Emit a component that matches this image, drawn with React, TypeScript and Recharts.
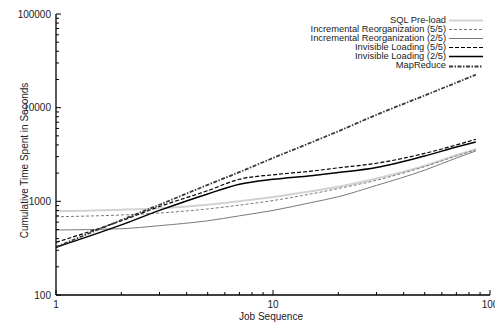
import React from 'react';
import { LineChart, Line, XAxis, YAxis, Legend, Label } from 'recharts';

// job sequence numbers (x, log scale)
const JOBS = [1, 2, 3, 5, 7, 10, 15, 20, 30, 50, 70, 86];

// cumulative seconds per series
const SQL_PRELOAD = [787, 815, 845, 920, 1000, 1110, 1280, 1430, 1750, 2400, 3100, 3600];
const INCR_REORG_55 = [685, 715, 750, 830, 910, 1020, 1200, 1370, 1680, 2350, 3050, 3550];
const INCR_REORG_25 = [494, 510, 550, 620, 700, 800, 970, 1120, 1480, 2150, 2900, 3450];
const INVIS_LOAD_55 = [365, 620, 880, 1300, 1720, 1920, 2100, 2280, 2550, 3250, 4000, 4600];
const INVIS_LOAD_25 = [323, 560, 800, 1200, 1520, 1720, 1880, 2030, 2300, 3050, 3800, 4300];
const MAPREDUCE = [325, 630, 920, 1500, 2050, 2900, 4250, 5600, 8400, 13500, 18500, 22500];

const X_TICKS = [1, 2, 3, 4, 5, 6, 7, 8, 9, 10, 20, 30, 40, 50, 60, 70, 80, 90, 100];
const Y_TICKS = [
  100, 200, 300, 400, 500, 600, 700, 800, 900,
  1000, 2000, 3000, 4000, 5000, 6000, 7000, 8000, 9000,
  10000, 20000, 30000, 40000, 50000, 60000, 70000, 80000, 90000,
  100000,
];

const SERIES = [
  { key: 'sql', name: 'SQL Pre-load', color: '#d2d2d2', width: 2, dash: undefined },
  { key: 'incr55', name: 'Incremental Reorganization (5/5)', color: '#7a7a7a', width: 1, dash: '3 2' },
  { key: 'incr25', name: 'Incremental Reorganization (2/5)', color: '#7a7a7a', width: 1, dash: undefined },
  { key: 'inv55', name: 'Invisible Loading (5/5)', color: '#000000', width: 1.2, dash: '4 2' },
  { key: 'inv25', name: 'Invisible Loading (2/5)', color: '#000000', width: 1.5, dash: undefined },
  { key: 'mr', name: 'MapReduce', color: '#3a3a3a', width: 1.8, dash: '4 1.5 1.5 1.5' },
];

const rows = JOBS.map((job, i) => ({
  job,
  sql: SQL_PRELOAD[i],
  incr55: INCR_REORG_55[i],
  incr25: INCR_REORG_25[i],
  inv55: INVIS_LOAD_55[i],
  inv25: INVIS_LOAD_25[i],
  mr: MAPREDUCE[i],
}));

const FONT = '"Liberation Sans", Arial, sans-serif';

const isMajor = (v: number) => Math.abs(Math.log10(v) - Math.round(Math.log10(v))) < 1e-6;

const BottomTick = (props: any) => {
  const { x, y, payload } = props;
  const major = isMajor(payload.value);
  return (
    <g>
      <line x1={x} y1={y} x2={x} y2={y - (major ? 5 : 3)} stroke="#000" strokeWidth={1} />
      {major && (
        <text x={x} y={y + 13} textAnchor="middle" fontSize={10} fontFamily={FONT} fill="#222">
          {payload.value}
        </text>
      )}
    </g>
  );
};

const TopTick = (props: any) => {
  const { x, y, payload } = props;
  const major = isMajor(payload.value);
  return <line x1={x} y1={y} x2={x} y2={y + (major ? 5 : 3)} stroke="#000" strokeWidth={1} />;
};

const LeftTick = (props: any) => {
  const { x, y, payload } = props;
  const major = isMajor(payload.value);
  return (
    <g>
      <line x1={x} y1={y} x2={x + (major ? 5 : 3)} y2={y} stroke="#000" strokeWidth={1} />
      {major && (
        <text x={x - 5} y={y} dy="0.36em" textAnchor="end" fontSize={10} fontFamily={FONT} fill="#222">
          {payload.value}
        </text>
      )}
    </g>
  );
};

const RightTick = (props: any) => {
  const { x, y, payload } = props;
  const major = isMajor(payload.value);
  return <line x1={x} y1={y} x2={x - (major ? 5 : 3)} y2={y} stroke="#000" strokeWidth={1} />;
};

const LegendBox = () => (
  <div style={{ fontFamily: FONT, fontSize: 9.3, color: '#222' }}>
    {SERIES.map((s) => (
      <div key={s.key} style={{ display: 'flex', alignItems: 'center', justifyContent: 'flex-end', height: 9.1, lineHeight: '9.1px' }}>
        <span style={{ whiteSpace: 'nowrap' }}>{s.name}</span>
        <svg width={34} height={9} style={{ marginLeft: 3, display: 'block' }}>
          <line x1={0} y1={4.5} x2={34} y2={4.5} stroke={s.color} strokeWidth={s.width} strokeDasharray={s.dash} />
        </svg>
      </div>
    ))}
  </div>
);

const axisLine = { stroke: '#000', strokeWidth: 1.3 };

export default function App() {
  return (
    <div style={{ position: 'absolute', left: 0, top: 0, width: 495, height: 322, background: '#fff' }}>
      <LineChart width={495} height={322} data={rows} margin={{ top: 14, right: 5, bottom: 0, left: 0 }}>
        <XAxis
          xAxisId="b"
          dataKey="job"
          type="number"
          scale="log"
          domain={[1, 100]}
          ticks={X_TICKS}
          interval={0}
          tickSize={0}
          tickMargin={0}
          tickLine={false}
          tick={BottomTick}
          axisLine={axisLine}
          height={27}
          allowDataOverflow
        >
          <Label
            content={(p: any) => (
              <text
                x={p.viewBox.x + p.viewBox.width / 2 - 2}
                y={320}
                textAnchor="middle"
                fontSize={10}
                fontFamily={FONT}
                fill="#222"
              >
                Job Sequence
              </text>
            )}
          />
        </XAxis>
        <XAxis
          xAxisId="t"
          orientation="top"
          dataKey="job"
          type="number"
          scale="log"
          domain={[1, 100]}
          ticks={X_TICKS}
          interval={0}
          tickSize={0}
          tickMargin={0}
          tickLine={false}
          tick={TopTick}
          axisLine={axisLine}
          height={0}
          allowDataOverflow
        />
        <YAxis
          yAxisId="l"
          type="number"
          scale="log"
          domain={[100, 100000]}
          ticks={Y_TICKS}
          interval={0}
          tickSize={0}
          tickMargin={0}
          tickLine={false}
          tick={LeftTick}
          axisLine={axisLine}
          width={56}
          allowDataOverflow
        >
          <Label
            content={(p: any) => {
              const cx = 24;
              const cy = p.viewBox.y + p.viewBox.height / 2 + 6;
              return (
                <text
                  x={cx}
                  y={cy}
                  transform={`rotate(-90, ${cx}, ${cy})`}
                  textAnchor="middle"
                  dominantBaseline="central"
                  fontSize={10}
                  fontFamily={FONT}
                  fill="#222"
                >
                  Cumulative Time Spent in Seconds
                </text>
              );
            }}
          />
        </YAxis>
        <YAxis
          yAxisId="r"
          orientation="right"
          type="number"
          scale="log"
          domain={[100, 100000]}
          ticks={Y_TICKS}
          interval={0}
          tickSize={0}
          tickMargin={0}
          tickLine={false}
          tick={RightTick}
          axisLine={axisLine}
          width={0}
          allowDataOverflow
        />
        <Legend
          layout="horizontal"
          verticalAlign="middle"
          align="center"
          content={LegendBox}
          wrapperStyle={{ top: 16, left: 'auto', right: 12, width: 'auto' }}
        />
        {SERIES.map((s) => (
          <Line
            key={s.key}
            xAxisId="b"
            yAxisId="l"
            dataKey={s.key}
            name={s.name}
            type="monotone"
            stroke={s.color}
            strokeWidth={s.width}
            strokeDasharray={s.dash}
            dot={false}
            activeDot={false}
            isAnimationActive={false}
          />
        ))}
      </LineChart>
    </div>
  );
}
